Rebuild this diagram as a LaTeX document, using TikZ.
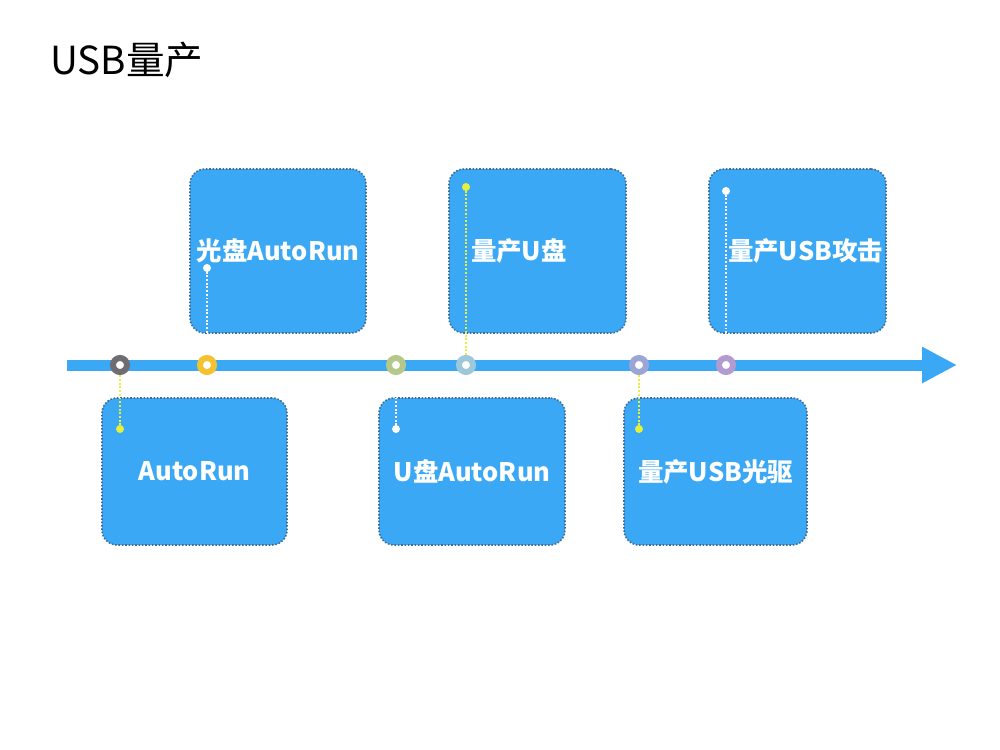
\documentclass[tikz,border=0pt]{standalone}
\usepackage{fontspec}
\setmainfont{Noto Sans CJK SC}
\usetikzlibrary{arrows.meta}

\definecolor{barBlue}{HTML}{3AA8F5}
\definecolor{boxEdge}{HTML}{3D6B96}
\definecolor{tickYellow}{HTML}{E6F03C}
\definecolor{ringGray}{HTML}{6E6E72}
\definecolor{ringGold}{HTML}{F2C230}
\definecolor{ringOlive}{HTML}{B5C78A}
\definecolor{ringSky}{HTML}{9DC8DA}
\definecolor{ringSlate}{HTML}{9BA6D4}
\definecolor{ringLilac}{HTML}{B39BD0}

\tikzset{
  stagebox/.style={draw=boxEdge, densely dotted, line width=0.9pt, fill=barBlue,
    rounded corners=0.3cm, minimum width=3.54cm, minimum height=3.28cm,
    text=white, font=\bfseries\fontsize{14.5}{17}\selectfont, inner sep=0pt},
  lowbox/.style={stagebox, minimum width=3.7cm, minimum height=2.94cm},
  ring/.style={circle, draw=#1, line width=0.12cm, fill=white,
    minimum size=0.28cm, inner sep=0pt},
  tick/.style={densely dotted, line width=1.1pt}
}

\newcommand{\stopDot}[2]{
  \fill[#1] (#2) circle (0.08cm);
}

\begin{document}
\begin{tikzpicture}[x=0.02cm,y=-0.02cm]
\fill[white] (0,0) rectangle (1000,750);
\useasboundingbox (0,0) rectangle (1000,750);

% title
\node[anchor=west, font=\fontsize{22}{25}\selectfont, inner sep=0pt] (title) at (50,60) {USB量产};

% timeline
\draw[barBlue, line width=0.22cm, -{Triangle[length=0.7cm, width=0.68cm]}] (67,365) -- (957,365);

% boxes above
\node[stagebox, minimum width=3.52cm] (cdRun) at (278,251) {光盘AutoRun};
\node[stagebox, align=left, text width=2.66cm, inner xsep=0.44cm] (mpDisk) at (537.5,251) {量产U盘};
\node[stagebox, align=left, text width=2.78cm, inner xsep=0.38cm] (mpAttack) at (797.5,251) {量产USB攻击};

% boxes below
\node[lowbox] (autoRun) at (194.5,471.5) {AutoRun};
\node[lowbox, minimum width=3.72cm] (diskRun) at (472,471.5) {U盘AutoRun};
\node[lowbox, minimum width=3.66cm] (mpDrive) at (715.5,471.5) {量产USB光驱};

% stops on the line
\node[ring=ringGray]  (s1) at (120,365) {};
\node[ring=ringGold]  (s2) at (207,365) {};
\node[ring=ringOlive] (s3) at (396,365) {};
\node[ring=ringSky]   (s4) at (466,365) {};
\node[ring=ringSlate] (s5) at (639,365) {};
\node[ring=ringLilac] (s6) at (726,365) {};

\coordinate (d1) at (120,429);
\coordinate (d2) at (207,268);
\coordinate (d3) at (396,429);
\coordinate (d4) at (466,187);
\coordinate (d5) at (639,429);
\coordinate (d6) at (726,191);

\draw[tick, tickYellow] (d1) -- (s1.south);
\draw[tick, white] (d2) -- (cdRun.south -| d2);
\draw[tick, white] (d3) -- (diskRun.north -| d3);
\draw[tick, tickYellow] (d4) -- (s4.north);
\draw[tick, tickYellow] (d5) -- (s5.south);
\draw[tick, white] (d6) -- (mpAttack.south -| d6);

\stopDot{tickYellow}{d1}
\stopDot{white}{d2}
\stopDot{white}{d3}
\stopDot{tickYellow}{d4}
\stopDot{tickYellow}{d5}
\stopDot{white}{d6}

\end{tikzpicture}
\end{document}
